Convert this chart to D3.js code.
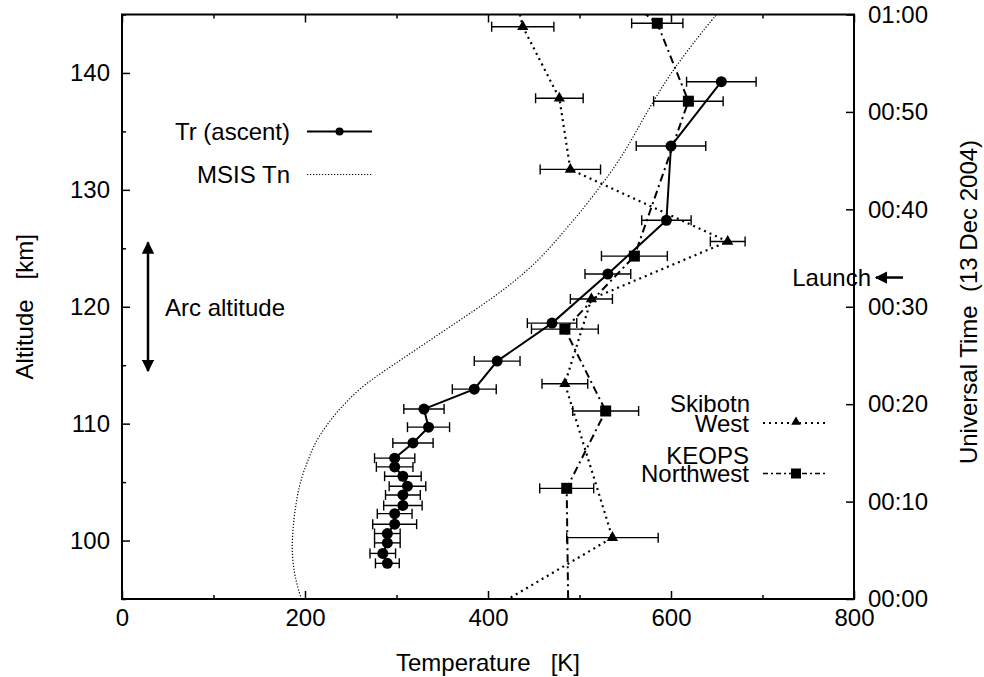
<!DOCTYPE html>
<html>
<head>
<meta charset="utf-8">
<script src="https://cdn.jsdelivr.net/npm/d3@7"></script>
<style>
  body { margin: 0; background: #fff; }
  svg text { font-family: "Liberation Sans", Arial, sans-serif; font-size: 24px; fill: #000; white-space: pre; }
</style>
</head>
<body>
<svg id="chart" width="984" height="677"></svg>
<script>
// Tr (ascent) - rocket temperatures vs altitude
var trAlt = [139.25, 133.75, 127.4, 122.8, 118.6, 115.35, 112.95, 111.25, 109.7, 108.35, 107.05, 106.3, 105.5, 104.65, 103.9, 103.0, 102.3, 101.4, 100.6, 99.8, 98.9, 98.05];
var trT = [655, 600, 595, 531, 470, 410, 385, 330, 335, 318, 298, 298, 307, 312, 307, 307, 298, 298, 290, 290, 285, 290];
var trErr = [38, 38, 27, 25, 27, 25, 24, 22, 23, 22, 22, 20, 20, 20, 19, 21, 19, 24, 14, 14, 14, 13];

// MSIS Tn model profile
var msisAlt = [95, 96, 97, 98, 99, 100, 101, 102, 103, 104, 105, 106, 107, 108, 109, 110, 111, 112, 113, 114, 115, 116, 117, 118, 119, 120, 121, 122, 123, 124, 125, 126, 127, 128, 130, 132, 134, 136, 138, 140, 142, 144, 145];
var msisT = [196, 192, 189, 187, 186, 186, 187, 188, 190, 192, 195, 199, 204, 209, 216, 225, 235, 247, 260, 277, 296, 315, 334, 353, 372, 391, 409, 426, 441, 455, 467, 478, 489, 500, 520, 539, 555, 569, 584, 600, 619, 639, 650];

// Skibotn West (FPI), minutes after 00:00 UT
var skiTime = [66, 58.75, 51.4, 44.1, 36.7, 30.8, 22.1, 6.3, -1.5];
var skiT = [420, 438, 478, 490, 662, 513, 484, 536, 395];
var skiErr = [30, 34, 26, 33, 19, 23, 25, 50, 30];

// KEOPS Northwest, minutes after 00:00 UT
var keoTime = [66, 59.1, 51.1, 35.2, 27.7, 19.3, 11.36, -3];
var keoT = [491, 585, 619, 560, 484, 528.6, 486, 488];
var keoErr = [30, 28, 38, 36, 36.5, 36, 29.5, 30];

var xTicks = [0, 200, 400, 600, 800];
var yTicks = [100, 110, 120, 130, 140];
var timeTicks = [0, 10, 20, 30, 40, 50, 60];
var timeLabels = ["00:00", "00:10", "00:20", "00:30", "00:40", "00:50", "01:00"];

var svg = d3.select("#chart");
var mLeft = 122, mRight = 854, mTop = 14.5, mBottom = 599;

var x = d3.scaleLinear().domain([0, 800]).range([mLeft, mRight]);
var y = d3.scaleLinear().domain([95, 145]).range([mBottom, mTop]);
var yTime = d3.scaleLinear().domain([0, 60]).range([mBottom, mTop]);

var defs = svg.append("defs");
defs.append("clipPath").attr("id", "plotClip")
    .append("rect")
    .attr("x", mLeft).attr("y", mTop)
    .attr("width", mRight - mLeft).attr("height", mBottom - mTop);

defs.append("marker")
    .attr("id", "head").attr("viewBox", "0 0 10 10")
    .attr("refX", 9).attr("refY", 5)
    .attr("markerWidth", 5).attr("markerHeight", 5)
    .attr("orient", "auto-start-reverse")
    .append("path").attr("d", "M0,0L10,5L0,10z");

// axes (ticks pointing inward)
function styleAxis(g) {
    g.select(".domain").remove();
    g.selectAll(".tick line").attr("stroke", "#000").attr("stroke-width", 1.5);
    g.selectAll(".tick text").style("font-size", "24px").attr("fill", "#000");
}

svg.append("g")
    .attr("transform", "translate(0," + mBottom + ")")
    .call(d3.axisBottom(x).tickValues(d3.range(0, 801, 100)).tickSize(-8).tickPadding(10)
        .tickFormat(function (d) { return xTicks.indexOf(d) >= 0 ? d : ""; }))
    .call(styleAxis)
    .selectAll(".tick line").attr("y2", function (d) { return xTicks.indexOf(d) >= 0 ? -8 : -4; });

svg.append("g")
    .attr("transform", "translate(0," + mTop + ")")
    .call(d3.axisTop(x).tickValues(d3.range(0, 801, 100)).tickSize(-8).tickFormat(""))
    .call(styleAxis)
    .selectAll(".tick line").attr("y2", function (d) { return xTicks.indexOf(d) >= 0 ? 8 : 4; });

svg.append("g")
    .attr("transform", "translate(" + mLeft + ",0)")
    .call(d3.axisLeft(y).tickValues(d3.range(95, 146, 5)).tickSize(-8).tickPadding(12)
        .tickFormat(function (d) { return yTicks.indexOf(d) >= 0 ? d : ""; }))
    .call(styleAxis)
    .selectAll(".tick line").attr("x2", function (d) { return yTicks.indexOf(d) >= 0 ? 8 : 4; });

svg.append("g")
    .attr("transform", "translate(" + mRight + ",0)")
    .call(d3.axisRight(yTime).tickValues(timeTicks).tickSize(-8).tickPadding(14)
        .tickFormat(function (d, i) { return timeLabels[i]; }))
    .call(styleAxis);

// frame
svg.append("rect")
    .attr("x", mLeft).attr("y", mTop)
    .attr("width", mRight - mLeft).attr("height", mBottom - mTop)
    .attr("fill", "none").attr("stroke", "#000").attr("stroke-width", 2);

// axis titles
svg.append("text")
    .attr("x", 488).attr("y", 671)
    .attr("text-anchor", "middle")
    .text("Temperature   [K]");

svg.append("text")
    .attr("transform", "translate(33," + ((mTop + mBottom) / 2) + ") rotate(-90)")
    .attr("text-anchor", "middle")
    .text("Altitude   [km]");

svg.append("text")
    .attr("transform", "translate(977,302) rotate(-90)")
    .attr("text-anchor", "middle")
    .text("Universal Time  (13 Dec 2004)");

var plot = svg.append("g").attr("clip-path", "url(#plotClip)");

// MSIS Tn
var msisData = msisAlt.map(function (a, i) { return [msisT[i], a]; });
plot.append("path")
    .datum(msisData)
    .attr("fill", "none")
    .attr("stroke", "#000")
    .attr("stroke-width", 1.2)
    .attr("stroke-dasharray", "1.2,1.8")
    .attr("d", d3.line()
        .x(function (d) { return x(d[0]); })
        .y(function (d) { return y(d[1]); })
        .curve(d3.curveBasis));

function errorBars(g, data, yScale) {
    data.forEach(function (d) {
        var yy = yScale(d.y), x0 = x(d.t - d.e), x1 = x(d.t + d.e);
        g.append("line").attr("x1", x0).attr("x2", x1).attr("y1", yy).attr("y2", yy);
        g.append("line").attr("x1", x0).attr("x2", x0).attr("y1", yy - 5).attr("y2", yy + 5);
        g.append("line").attr("x1", x1).attr("x2", x1).attr("y1", yy - 5).attr("y2", yy + 5);
    });
    g.attr("stroke", "#000").attr("stroke-width", 1.4);
}

// Skibotn West
var skiData = skiTime.map(function (t, i) { return { y: t, t: skiT[i], e: skiErr[i] }; });
errorBars(plot.append("g"), skiData, yTime);
plot.append("path")
    .datum(skiData)
    .attr("fill", "none").attr("stroke", "#000").attr("stroke-width", 2.2)
    .attr("stroke-dasharray", "2,4")
    .attr("d", d3.line().x(function (d) { return x(d.t); }).y(function (d) { return yTime(d.y); }));
var tri = d3.symbol().type(d3.symbolTriangle).size(55);
plot.selectAll("path.ski").data(skiData).enter().append("path")
    .attr("class", "ski")
    .attr("d", tri)
    .attr("transform", function (d) { return "translate(" + x(d.t) + "," + yTime(d.y) + ")"; });

// KEOPS Northwest
var keoData = keoTime.map(function (t, i) { return { y: t, t: keoT[i], e: keoErr[i] }; });
errorBars(plot.append("g"), keoData, yTime);
plot.append("path")
    .datum(keoData)
    .attr("fill", "none").attr("stroke", "#000").attr("stroke-width", 2)
    .attr("stroke-dasharray", "8,4,2,4")
    .attr("d", d3.line().x(function (d) { return x(d.t); }).y(function (d) { return yTime(d.y); }));
plot.selectAll("rect.keo").data(keoData).enter().append("rect")
    .attr("class", "keo")
    .attr("x", function (d) { return x(d.t) - 5.5; })
    .attr("y", function (d) { return yTime(d.y) - 5.5; })
    .attr("width", 11).attr("height", 11);

// Tr (ascent)
var trData = trAlt.map(function (a, i) { return { y: a, t: trT[i], e: trErr[i] }; });
errorBars(plot.append("g"), trData, y);
plot.append("path")
    .datum(trData)
    .attr("fill", "none").attr("stroke", "#000").attr("stroke-width", 2)
    .attr("d", d3.line().x(function (d) { return x(d.t); }).y(function (d) { return y(d.y); }));
plot.selectAll("circle.tr").data(trData).enter().append("circle")
    .attr("class", "tr")
    .attr("cx", function (d) { return x(d.t); })
    .attr("cy", function (d) { return y(d.y); })
    .attr("r", 5.5);

// legend: upper left
var leg = svg.append("g");
leg.append("text").attr("x", 290).attr("y", 140).attr("text-anchor", "end").text("Tr (ascent)");
leg.append("line").attr("x1", 307).attr("x2", 372).attr("y1", 131.5).attr("y2", 131.5)
    .attr("stroke", "#000").attr("stroke-width", 2);
leg.append("circle").attr("cx", 339.5).attr("cy", 131.5).attr("r", 4);
leg.append("text").attr("x", 290).attr("y", 183).attr("text-anchor", "end").text("MSIS Tn");
leg.append("line").attr("x1", 307).attr("x2", 372).attr("y1", 174.5).attr("y2", 174.5)
    .attr("stroke", "#000").attr("stroke-width", 1.2).attr("stroke-dasharray", "1.2,1.8");

// legend: lower right
leg.append("text").attr("x", 750).attr("y", 412).attr("text-anchor", "end").text("Skibotn");
leg.append("text").attr("x", 749).attr("y", 432).attr("text-anchor", "end").text("West");
leg.append("line").attr("x1", 763).attr("x2", 828).attr("y1", 423).attr("y2", 423)
    .attr("stroke", "#000").attr("stroke-width", 2).attr("stroke-dasharray", "2,4");
leg.append("path").attr("d", d3.symbol().type(d3.symbolTriangle).size(40))
    .attr("transform", "translate(796,422)");
leg.append("text").attr("x", 749).attr("y", 464).attr("text-anchor", "end").text("KEOPS");
leg.append("text").attr("x", 749).attr("y", 482).attr("text-anchor", "end").text("Northwest");
leg.append("line").attr("x1", 763).attr("x2", 828).attr("y1", 473.5).attr("y2", 473.5)
    .attr("stroke", "#000").attr("stroke-width", 1.6).attr("stroke-dasharray", "5,3,2,3");
leg.append("rect").attr("x", 791).attr("y", 468.5).attr("width", 10).attr("height", 10);

// arc altitude annotation
var arcTop = 125.5, arcBottom = 114.5;
svg.append("line")
    .attr("x1", 148).attr("x2", 148)
    .attr("y1", y(arcTop)).attr("y2", y(arcBottom))
    .attr("stroke", "#000").attr("stroke-width", 2.5)
    .attr("marker-start", "url(#head)").attr("marker-end", "url(#head)");
svg.append("text").attr("x", 165).attr("y", 316).text("Arc altitude");

// launch annotation
var launchTime = 33;
svg.append("text").attr("x", 871).attr("y", yTime(launchTime) + 8).attr("text-anchor", "end").text("Launch");
svg.append("line")
    .attr("x1", 903).attr("x2", 876)
    .attr("y1", yTime(launchTime)).attr("y2", yTime(launchTime))
    .attr("stroke", "#000").attr("stroke-width", 2.5)
    .attr("marker-end", "url(#head)");
</script>
</body>
</html>
